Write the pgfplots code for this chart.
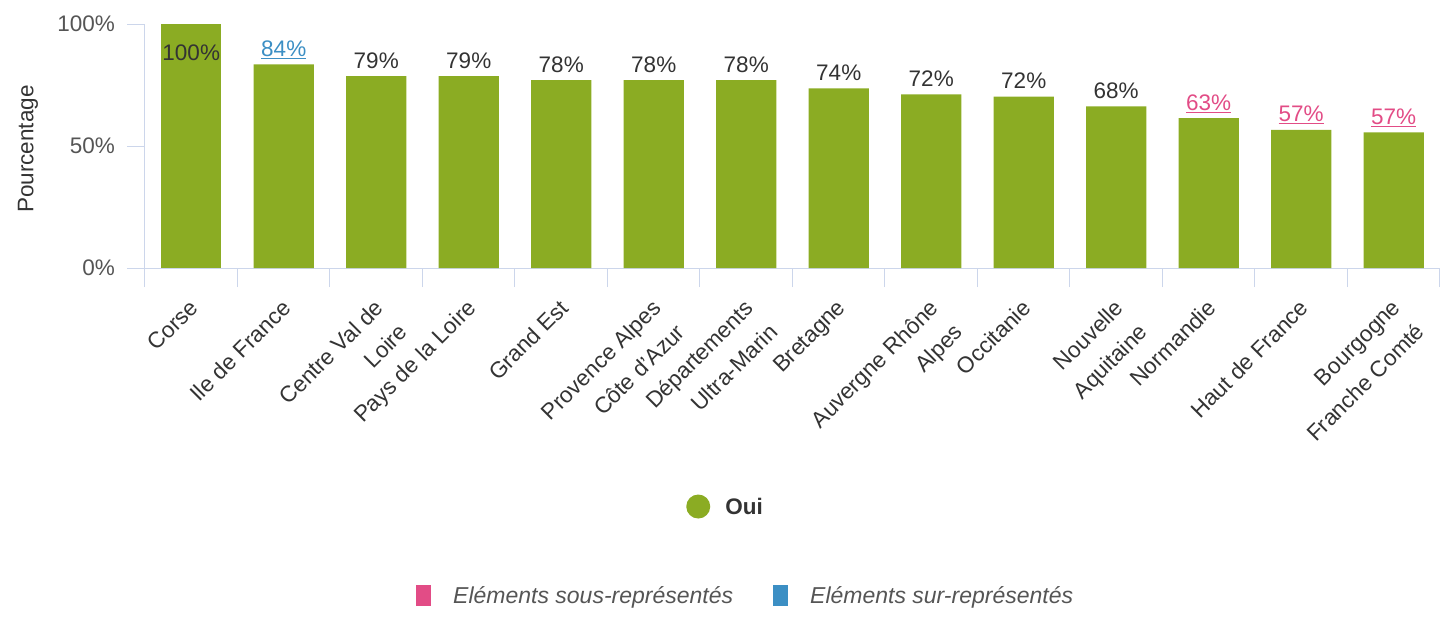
\documentclass[border=0pt]{standalone}
\usepackage{pgfplots}
\pgfplotsset{compat=1.18}
\usepackage{fontspec}
\setmainfont{Liberation Sans}
\definecolor{oui}{RGB}{139,172,35}
\definecolor{sous}{RGB}{226,76,134}
\definecolor{sur}{RGB}{60,143,196}
\definecolor{axisc}{RGB}{204,214,235}
\definecolor{txt}{RGB}{51,51,51}
\definecolor{tickc}{RGB}{85,85,85}
\newcommand\fs{\fontsize{22.5}{27}\selectfont}
\newcommand\fsl{\fontsize{22.5}{34}\selectfont}
\newcommand\sousl[1]{\textcolor{sous}{\underline{#1\%}}}
\newcommand\surl[1]{\textcolor{sur}{\underline{#1\%}}}
\begin{document}
\begin{tikzpicture}
\useasboundingbox (0,0) rectangle (1441pt,-618pt);
\begin{axis}[
  at={(145pt,-268pt)}, anchor=south west,
  scale only axis, width=1295pt, height=244pt,
  xmin=-0.5, xmax=13.5, ymin=0, ymax=100,
  axis x line*=bottom, axis y line*=left,
  axis line style={axisc, line width=1pt, -},
  xtick={0,...,13},
  xticklabels={Corse, Ile de France, {Centre Val de\\Loire}, Pays de la Loire, Grand Est, {Provence Alpes\\Côte d’Azur}, {Départements\\Ultra-Marin}, Bretagne, {Auvergne Rhône\\Alpes}, Occitanie, {Nouvelle\\Aquitaine}, Normandie, Haut de France, {Bourgogne\\Franche Comté}},
  minor xtick={-0.5,0.5,...,13.5},
  ytick={0,50,100},
  yticklabels={0\%,50\%,100\%},
  tick align=outside,
  major tick length=18pt, minor tick length=19pt,
  tick style={axisc, line width=1pt},
  major x tick style={draw=none},
  xticklabel style={yshift=-12pt, xshift=-3pt, rotate=45, anchor=north east, align=right, font=\fsl, text=txt, inner sep=0pt},
  yticklabel style={anchor=east, font=\fs, text=tickc, inner sep=0pt, xshift=-12pt},
  ylabel={Pourcentage},
  every axis y label/.style={at={(axis description cs:0,0.5)}, xshift=-117pt, yshift=-3pt, rotate=90, anchor=center, font=\fs, text=txt},
  legend style={draw=none, fill=none, at={(axis description cs:0.4178,-0.9775)}, anchor=west, inner sep=0pt, font=\bfseries\fs, text=txt, nodes={inner sep=0pt}, /tikz/column sep=15pt},
  clip=false,
]
\addplot[ybar, bar width=0.65, bar shift=0pt, fill=oui, draw=none,
  point meta=explicit symbolic, nodes near coords,
  nodes near coords style={anchor=base, yshift=8pt, font=\fs, text=txt, inner sep=0pt},
  legend image code/.code={\fill[oui] (12pt,1pt) circle (12pt);}]
coordinates {
(1,83.5) [\surl{84}]
(2,78.6) [79\%]
(3,78.6) [79\%]
(4,77.0) [78\%]
(5,77.0) [78\%]
(6,77.0) [78\%]
(7,73.6) [74\%]
(8,71.2) [72\%]
(9,70.2) [72\%]
(10,66.2) [68\%]
(11,61.4) [\sousl{63}]
(12,56.6) [\sousl{57}]
(13,55.6) [\sousl{57}]
};
\addlegendentry{Oui}
\addplot[ybar, bar width=0.65, bar shift=0pt, fill=oui, draw=none, forget plot,
  point meta=explicit symbolic, nodes near coords,
  nodes near coords style={anchor=base, yshift=-36pt, font=\fs, text=txt, inner sep=0pt}]
coordinates {(0,100) [100\%]};
\end{axis}
\fill[sous] (416pt,-585pt) rectangle (431pt,-606pt);
\node[anchor=west, inner sep=0pt, font=\itshape\fontsize{23}{27}\selectfont, text=tickc] at (453pt,-597pt) {Eléments sous-représentés};
\fill[sur] (773pt,-585pt) rectangle (788pt,-606pt);
\node[anchor=west, inner sep=0pt, font=\itshape\fontsize{23}{27}\selectfont, text=tickc] at (810pt,-597pt) {Eléments sur-représentés};
\end{tikzpicture}
\end{document}
